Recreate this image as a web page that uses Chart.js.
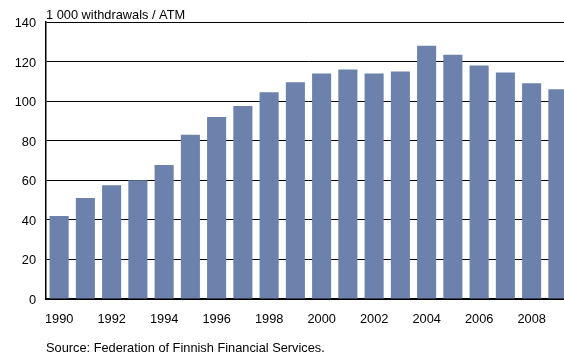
<!DOCTYPE html>
<html>
<head>
<meta charset="utf-8">
<script src="https://cdn.jsdelivr.net/npm/chart.js@4"></script>
<style>
  html, body { margin: 0; padding: 0; background: #fff; overflow: hidden; }
  #wrap { width: 571px; height: 356px; }
</style>
</head>
<body>
<div id="wrap"><canvas id="atmChart" width="571" height="356"></canvas></div>
<script>
// Withdrawals per ATM, 1990-2009 (thousands)
const years = ['1990', '1991', '1992', '1993', '1994', '1995', '1996', '1997', '1998', '1999',
               '2000', '2001', '2002', '2003', '2004', '2005', '2006', '2007', '2008', '2009'];
const withdrawals = [42, 51, 57.5, 60, 67.7, 83, 92, 97.5, 104.5, 109.5,
                     114, 116, 114, 115, 128, 123.5, 118, 114.5, 109, 106];
const yTicks = [0, 20, 40, 60, 80, 100, 120, 140];
const unitLabel = '1 000 withdrawals / ATM';
const sourceLabel = 'Source: Federation of Finnish Financial Services.';

const FONT = 'Liberation Sans, Arial, sans-serif';

// draws the unit label above the axis and the source note below
const notesPlugin = {
  id: 'notes',
  afterDraw(chart) {
    const ctx = chart.ctx;
    ctx.save();
    ctx.fillStyle = '#000';
    ctx.font = '12.8px ' + FONT;
    ctx.textAlign = 'left';
    ctx.textBaseline = 'alphabetic';
    ctx.fillText(unitLabel, chart.chartArea.left, 19);
    ctx.fillText(sourceLabel, chart.chartArea.left, 352);
    ctx.restore();
  }
};

new Chart(document.getElementById('atmChart'), {
  type: 'bar',
  data: {
    labels: years,
    datasets: [{
      data: withdrawals,
      backgroundColor: '#6C82AD',
      borderWidth: 0,
      categoryPercentage: 1,
      barPercentage: 0.727
    }]
  },
  options: {
    responsive: false,
    animation: false,
    events: [],
    layout: { padding: { top: 22, right: 0, bottom: 0, left: 0 } },
    plugins: {
      legend: { display: false },
      tooltip: { enabled: false },
      title: { display: false }
    },
    scales: {
      x: {
        grid: { drawOnChartArea: false, drawTicks: false },
        border: { display: true, color: '#000', width: 2 },
        ticks: {
          autoSkip: false,
          maxRotation: 0,
          padding: 13,
          color: '#000',
          font: { family: FONT, size: 12.8 },
          callback: function (value, index) {
            return index % 2 === 0 ? years[index] : '';
          }
        },
        afterFit(scale) { scale.height = 57; }
      },
      y: {
        min: 0,
        max: 140,
        afterBuildTicks(scale) { scale.ticks = yTicks.map(v => ({ value: v })); },
        grid: { color: '#000', lineWidth: 1, drawTicks: false },
        border: { display: true, color: '#000', width: 1.5 },
        ticks: {
          padding: 10,
          labelOffset: 1.5,
          color: '#000',
          font: { family: FONT, size: 12.8 }
        },
        afterFit(scale) { scale.width = 46; }
      }
    }
  },
  plugins: [notesPlugin]
});
</script>
</body>
</html>
